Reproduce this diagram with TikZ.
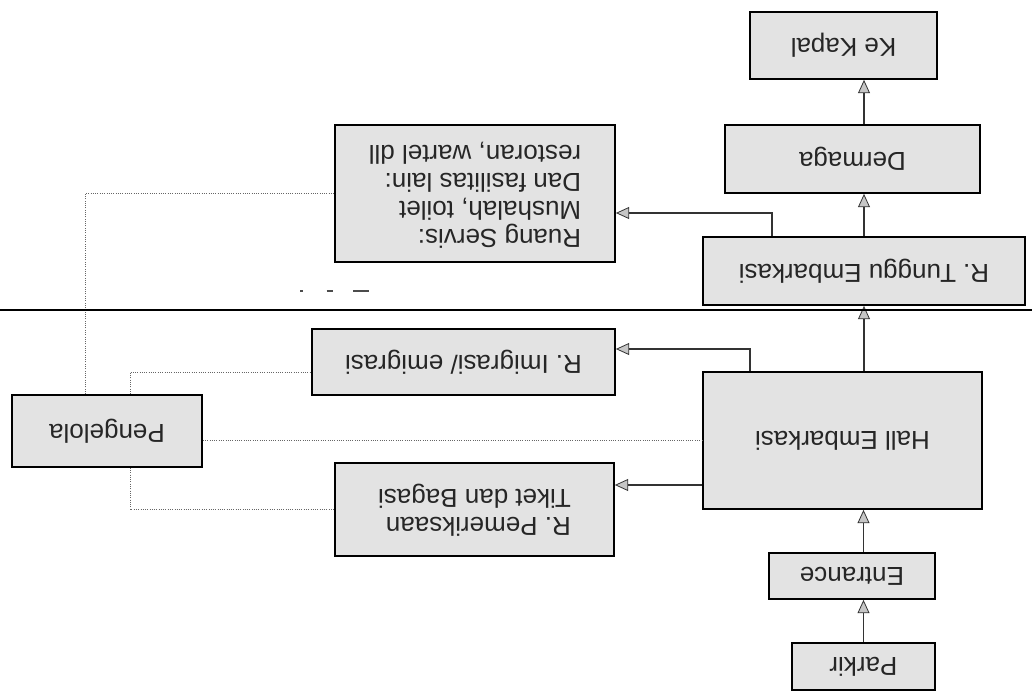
\documentclass[tikz,border=0pt]{standalone}
\usepackage{fontspec}
\setmainfont{Liberation Sans}
\usetikzlibrary{arrows.meta,calc}
\begin{document}
\begin{tikzpicture}[x=0.75pt,y=-0.75pt,
  box/.style={draw=black,line width=1.3pt,fill=gray!22,inner sep=0pt,
     font=\fontsize{19.5}{21}\selectfont,text=black!85},
  arr/.style={line width=1.1pt,draw=black!80,
     -{Triangle[width=9pt,length=10pt,fill=gray!45,line width=0.6pt]}},
  dot/.style={draw=black!60,line width=0.7pt,densely dotted}]
\useasboundingbox (0,0) rectangle (1032,696);
\newcommand{\up}[1]{\rotatebox{180}{#1}}
\newcommand{\upm}[1]{\rotatebox{180}{\begin{tabular}{@{}l@{}}#1\end{tabular}}}

\node[box,minimum width=187*0.75pt,minimum height=67*0.75pt] (kapal) at (843.5,45.5) {\up{Ke Kapal}};
\node[box,minimum width=255*0.75pt,minimum height=68*0.75pt] (dermaga) at (852.5,159) {\up{Dermaga}};
\node[box,minimum width=322*0.75pt,minimum height=68*0.75pt] (tunggu) at (864,271) {\up{R. Tunggu Embarkasi}};
\node[box,minimum width=280*0.75pt,minimum height=137*0.75pt] (servis) at (475,193.5) {\upm{Ruang Servis:\\Mushalah, toilet\\Dan fasilitas lain:\\restoran, wartel dll}};
\node[box,minimum width=303*0.75pt,minimum height=66*0.75pt] (imigrasi) at (463.5,362) {\up{R. Imigrasi/ emigrasi}};
\node[box,minimum width=279*0.75pt,minimum height=137*0.75pt] (hall) at (842.5,440.5) {\up{Hall Embarkasi}};
\node[box,minimum width=279*0.75pt,minimum height=93*0.75pt] (periksa) at (474.5,509.5) {\upm{R. Pemeriksaan\\Tiket dan Bagasi}};
\node[box,minimum width=190*0.75pt,minimum height=72*0.75pt] (pengelola) at (107,431) {\up{Pengelola}};
\node[box,minimum width=166*0.75pt,minimum height=46*0.75pt] (entrance) at (852,576) {\up{Entrance}};
\node[box,minimum width=143*0.75pt,minimum height=47*0.75pt] (parkir) at (863.5,666.5) {\up{Parkir}};

% main flow
\draw[arr] (parkir.north) -- (parkir.north |- entrance.south);
\draw[arr] (entrance.north -| parkir) -- (hall.south -| parkir);
\draw[arr] (hall.north -| tunggu) -- (tunggu.south);
\draw[arr] (tunggu.north) -- (tunggu.north |- dermaga.south);
\draw[arr] (tunggu.north |- dermaga.north) -- (tunggu.north |- kapal.south);

% side rooms
\draw[arr] ([shift={(0,44.5)}]hall.west) coordinate (h1) -- (h1 -| periksa.east);
\draw[arr] ([shift={(-92.5,0)}]hall.north) |- ([shift={(0,-13)}]imigrasi.east);
\draw[arr] ([shift={(-92,0)}]tunggu.north) |- ([shift={(0,19.5)}]servis.east);

% management links
\draw[dot] ([shift={(0,9)}]pengelola.east) coordinate (q1) -- (q1 -| hall.west);
\draw[dot] ([shift={(23,0)}]pengelola.north) |- ([shift={(0,10)}]imigrasi.west);
\draw[dot] ([shift={(23,0)}]pengelola.south) |- (periksa.west);
\draw[dot] ([shift={(-22,0)}]pengelola.north) |- (servis.west);

% separator line
\coordinate (l1) at (0,310);
\coordinate (l2) at (1032,310);
\draw[line width=1pt] (l1) -- (l2);
\coordinate (d1) at (300,291);
\coordinate (d2) at (380,291);
\draw[line width=0.8pt,black!70,dash pattern=on 2pt off 18pt on 5pt off 15pt on 10pt off 0pt] (d1) -- (d2);
\end{tikzpicture}
\end{document}
